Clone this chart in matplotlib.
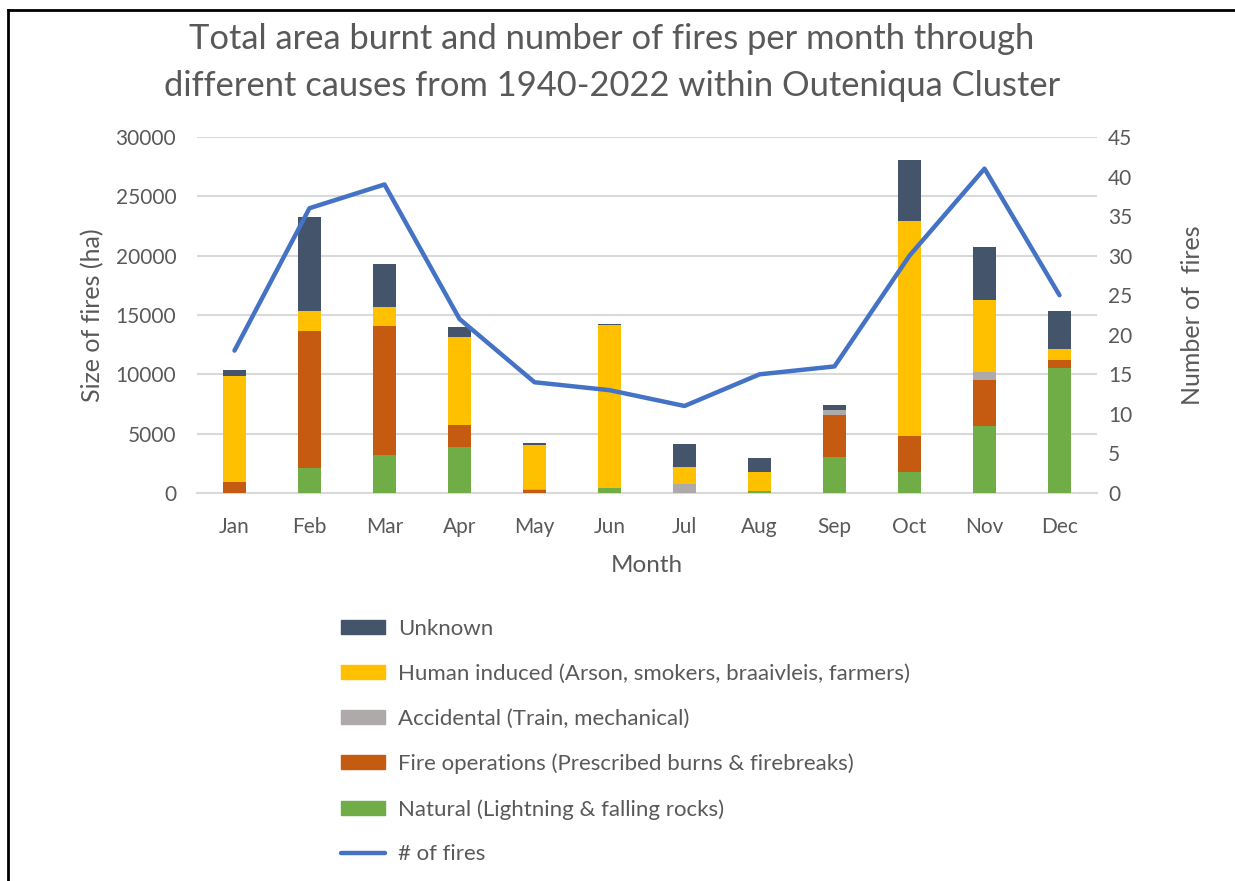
import matplotlib
matplotlib.use("Agg")
import matplotlib.pyplot as plt
from matplotlib.patches import Patch
from matplotlib.lines import Line2D
import numpy as np

plt.rcParams['font.family'] = ['Lato', 'DejaVu Sans']

months = ["Jan", "Feb", "Mar", "Apr", "May", "Jun", "Jul", "Aug", "Sep", "Oct", "Nov", "Dec"]
natural = [0, 2100, 3230, 3880, 0, 400, 0, 140, 3030, 1740, 5650, 10530]
fire_ops = [900, 11580, 10815, 1830, 250, 0, 0, 0, 3510, 3030, 3850, 650]
accidental = [0, 0, 0, 0, 50, 0, 790, 0, 480, 0, 700, 0]
human = [8930, 1660, 1630, 7470, 3750, 13790, 1430, 1600, 0, 18180, 6040, 980]
unknown = [535, 7920, 3600, 840, 140, 80, 1940, 1210, 365, 5110, 4500, 3200]
num_fires = [18, 36, 39, 22, 14, 13, 11, 15, 16, 30, 41, 25]

series = [
    ("Natural (Lightning & falling rocks)", natural, "#70AD47"),
    ("Fire operations (Prescribed burns & firebreaks)", fire_ops, "#C55A11"),
    ("Accidental (Train, mechanical)", accidental, "#AEAAAA"),
    ("Human induced (Arson, smokers, braaivleis, farmers)", human, "#FFC000"),
    ("Unknown", unknown, "#44546A"),
]

TXT = "#595959"
W, H = 1235, 881
fig = plt.figure(figsize=(W / 100, H / 100), dpi=100)
ax = fig.add_axes([197 / W, 1 - 493 / H, 900 / W, 356 / H])

x = np.arange(len(months))
bottom = np.zeros(len(months))
for label, vals, col in series:
    v = np.array(vals, dtype=float)
    ax.bar(x, v, 0.31, bottom=bottom, color=col, label=label, zorder=3)
    bottom += v

ax.set_xlim(-0.5, 11.5)
ax.set_ylim(0, 30000)
ax.set_yticks(np.arange(0, 30001, 5000))
ax.grid(axis="y", color="#D9D9D9", linewidth=1.5, zorder=0)
ax.set_xticks(x)
ax.set_xticklabels(months)
for s in ["top", "right", "left"]:
    ax.spines[s].set_visible(False)
ax.spines["bottom"].set_color("#D9D9D9")
ax.spines["bottom"].set_linewidth(1.5)
ax.tick_params(axis="both", length=0, labelsize=15, labelcolor=TXT)
ax.tick_params(axis="x", pad=17)
ax.tick_params(axis="y", pad=15)
ax.set_ylabel("Size of fires (ha)", fontsize=18, color=TXT, labelpad=8)
ax.set_xlabel("Month", fontsize=17.5, color=TXT, labelpad=13)

ax2 = ax.twinx()
ax2.plot(x, num_fires, color="#4472C4", linewidth=3.2, solid_capstyle="round", zorder=4)
ax2.set_ylim(0, 45)
ax2.set_yticks(np.arange(0, 46, 5))
for s in ["top", "right", "left", "bottom"]:
    ax2.spines[s].set_visible(False)
ax2.tick_params(axis="y", length=0, labelsize=15, labelcolor=TXT, pad=8)
ax2.set_ylabel("Number of  fires", fontsize=18, color=TXT, labelpad=35)

fig.suptitle("Total area burnt and number of fires per month through\n"
             "different causes from 1940-2022 within Outeniqua Cluster",
             x=612 / W, y=1 - 23 / H, va="top", fontsize=24.8, color=TXT, linespacing=1.56)

handles = [Patch(color=c) for _, _, c in reversed(series)]
labels = [l for l, _, _ in reversed(series)]
handles.append(Line2D([0], [0], color="#4472C4", linewidth=3.2, solid_capstyle="round"))
labels.append("# of fires")
leg = fig.legend(handles, labels, loc="upper left", bbox_to_anchor=(323 / W, 1 - 601 / H),
                 frameon=False, fontsize=16, labelcolor=TXT, handlelength=1.98,
                 handleheight=0.6, handletextpad=0.6, labelspacing=1.12, borderpad=0.3)

fig.add_artist(Line2D([8 / W, 8 / W], [0, 1 - 10 / H], transform=fig.transFigure, color="black", linewidth=2))
fig.add_artist(Line2D([8 / W, 1], [1 - 10 / H, 1 - 10 / H], transform=fig.transFigure, color="black", linewidth=2))

fig.savefig("out.png", dpi=100)
